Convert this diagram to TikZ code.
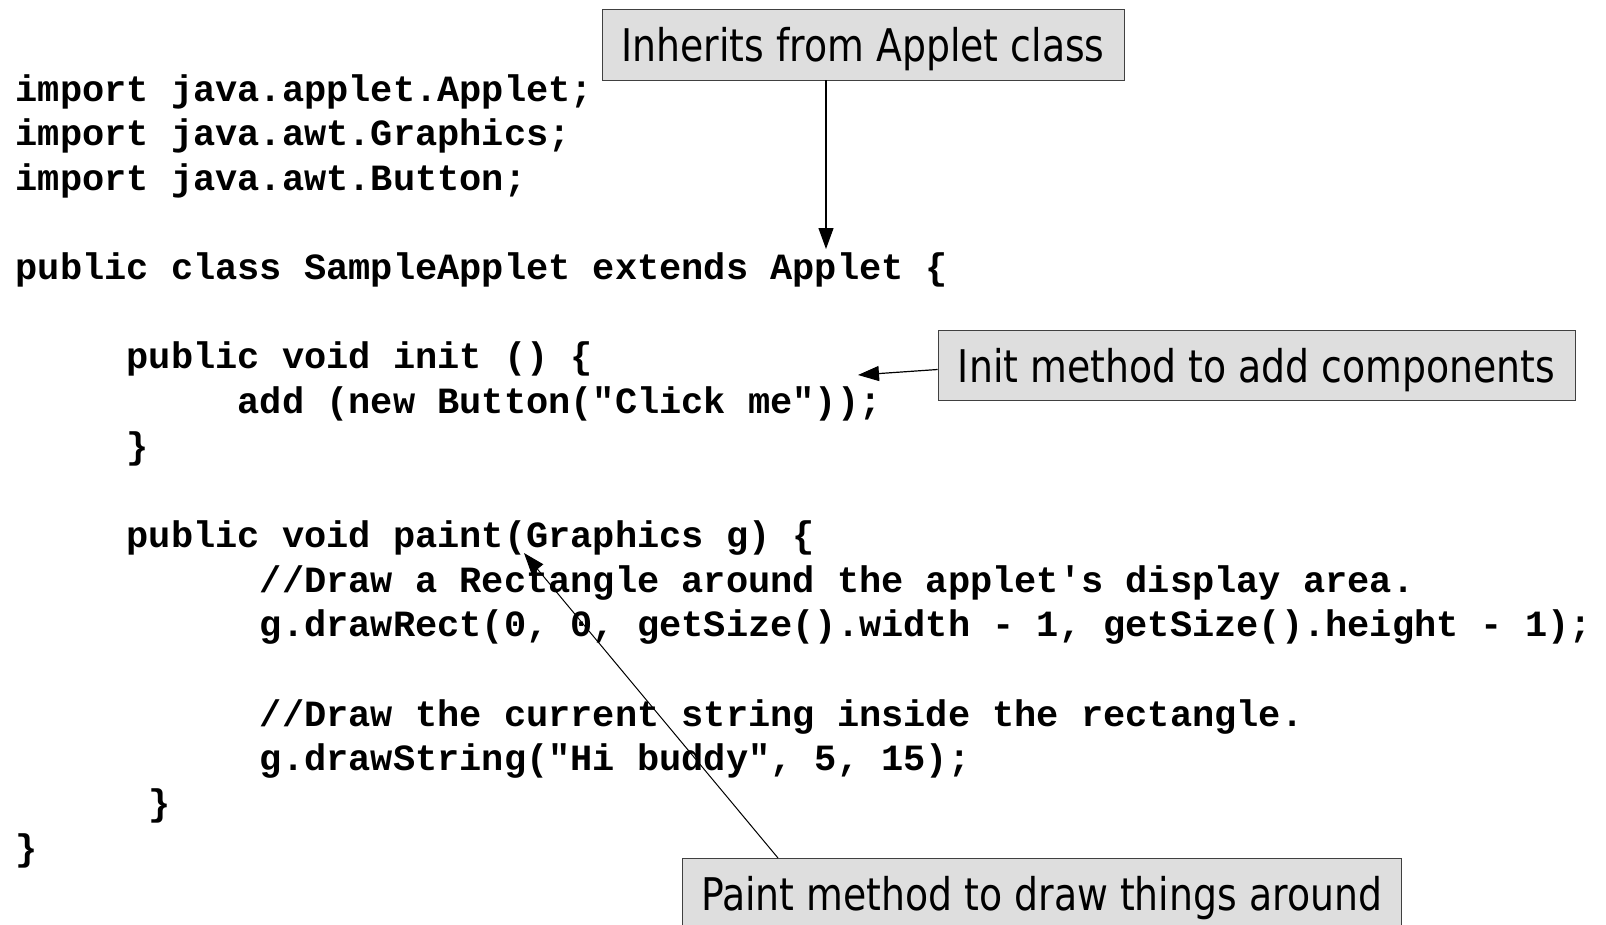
\documentclass[tikz,border=0pt]{standalone}
\usepackage{fontspec}
\setmonofont{Liberation Mono}
\newfontfamily\labelfont{DejaVu Sans}[FakeStretch=0.84]
\usetikzlibrary{arrows.meta}
\tikzset{
  code/.style={anchor=base west, inner sep=0pt, font=\fontsize{37}{44.65}\ttfamily\bfseries},
  callout/.style={draw=black!75, line width=0.9pt, fill=black!13, inner sep=0pt,
     text depth=0pt, font=\fontsize{45}{50}\labelfont},
  pointer/.style={draw=black, line width=1.2pt, -{Triangle[length=21pt,width=15pt]}},
}
\begin{document}
\begin{tikzpicture}[x=1pt,y=-1pt]
\useasboundingbox[fill=white] (0,0) rectangle (1606,924);
\def\cw{22.2}
\def\lh{44.65}
\def\ox{15.5}
% code lines
\node[code] (l1)  at (\ox+0*\cw, 101+0*\lh)  {import java.applet.Applet;};
\node[code] (l2)  at (\ox+0*\cw, 101+1*\lh)  {import java.awt.Graphics;};
\node[code] (l3)  at (\ox+0*\cw, 101+2*\lh)  {import java.awt.Button;};
\node[code] (l5)  at (\ox+0*\cw, 101+4*\lh)  {public class SampleApplet extends Applet \{};
\node[code] (l7)  at (\ox+5*\cw, 101+6*\lh)  {public void init () \{};
\node[code] (l8)  at (\ox+10*\cw, 101+7*\lh) {add (new Button("Click me"));};
\node[code] (l9)  at (\ox+5*\cw, 101+8*\lh)  {\}};
\node[code] (l11) at (\ox+5*\cw, 101+10*\lh) {public void paint(Graphics g) \{};
\node[code] (l12) at (\ox+11*\cw, 101+11*\lh) {//Draw a Rectangle around the applet's display area.};
\node[code] (l13) at (\ox+11*\cw, 101+12*\lh) {g.drawRect(0, 0, getSize().width - 1, getSize().height - 1);};
\node[code] (l15) at (\ox+11*\cw, 101+14*\lh) {//Draw the current string inside the rectangle.};
\node[code] (l16) at (\ox+11*\cw, 101+15*\lh) {g.drawString("Hi buddy", 5, 15);};
\node[code] (l17) at (\ox+6*\cw, 101+16*\lh) {\}};
\node[code] (l18) at (\ox+0*\cw, 101+17*\lh) {\}};
% callouts
\node[callout, minimum width=522pt, minimum height=71pt] (inh) at (863,44.5) {Inherits from Applet class};
\node[callout, minimum width=637pt, minimum height=70pt] (ini) at (1256.5,365) {Init method to add components};
\node[callout, minimum width=719pt, minimum height=70pt] (pnt) at (1041.5,893) {Paint method to draw things around};
% arrow ends
\coordinate (t1) at (826,249);
\coordinate (t2) at (858,375);
\coordinate (t3) at (524,553);
\coordinate (s3) at (778,858);
\draw[pointer] (inh.south -| t1) -- (t1);
\draw[pointer] ([yshift=-4.5pt]ini.west) -- (t2);
\draw[pointer, line width=1pt] (s3) -- (t3);
\end{tikzpicture}
\end{document}
